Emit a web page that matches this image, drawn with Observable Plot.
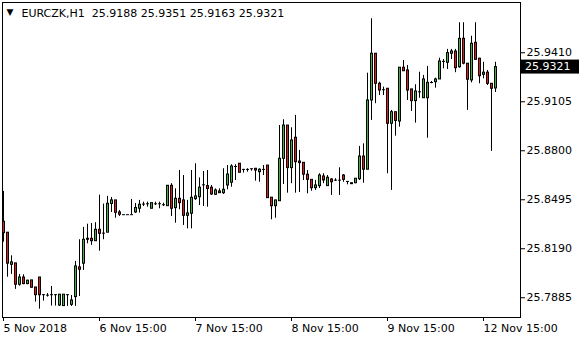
<!DOCTYPE html>
<html>
<head>
<meta charset="utf-8">
<script src="https://cdn.jsdelivr.net/npm/d3@7"></script>
<script src="https://cdn.jsdelivr.net/npm/@observablehq/plot@0.6"></script>
<style>
  html, body { margin: 0; padding: 0; background: #ffffff; }
  #chart { width: 580px; height: 340px; }
  .hdr text { white-space: pre; }
</style>
</head>
<body>
<div id="chart"></div>
<script>
const symbol = "EURCZK,H1";

const open = [
25.8358, 25.8290, 25.8090, 25.8099, 25.7966, 25.8011, 25.7970, 25.7993, 25.7949, 25.8011,
25.7904, 25.7901, 25.7904, 25.7904, 25.7837, 25.7833, 25.7904, 25.7841, 25.7889, 25.8074,
25.8097, 25.8246, 25.8252, 25.8237, 25.8308, 25.8287, 25.8290, 25.8469, 25.8491, 25.8416,
25.8402, 25.8402, 25.8402, 25.8416, 25.8439, 25.8468, 25.8470, 25.8439, 25.8470, 25.8470,
25.8464, 25.8455, 25.8582, 25.8443, 25.8501, 25.8491, 25.8395, 25.8408, 25.8499, 25.8511,
25.8588, 25.8580, 25.8570, 25.8526, 25.8547, 25.8536, 25.8584, 25.8601, 25.8702, 25.8719,
25.8684, 25.8684, 25.8688, 25.8688, 25.8667, 25.8684, 25.8708, 25.8508, 25.8455, 25.8486,
25.8750, 25.8957, 25.8692, 25.8881, 25.8733, 25.8725, 25.8651, 25.8619, 25.8567, 25.8580,
25.8640, 25.8580, 25.8621, 25.8617, 25.8617, 25.8646, 25.8609, 25.8598, 25.8598, 25.8623,
25.8764, 25.8682, 25.9113, 25.9404, 25.9217, 25.9180, 25.9186, 25.8968, 25.9040, 25.8982,
25.9317, 25.9300, 25.9182, 25.9109, 25.9167, 25.9127, 25.9127, 25.9225, 25.9227, 25.9244,
25.9356, 25.9348, 25.9404, 25.9418, 25.9320, 25.9497, 25.9342, 25.9238, 25.9472, 25.9373,
25.9273, 25.9286, 25.9217, 25.9188
];

const high = [
25.8547, 25.8290, 25.8146, 25.8099, 25.8030, 25.8028, 25.7994, 25.7993, 25.7949, 25.8011,
25.7904, 25.7911, 25.7955, 25.7904, 25.7904, 25.7904, 25.7904, 25.7899, 25.8111, 25.8246,
25.8323, 25.8343, 25.8347, 25.8352, 25.8524, 25.8468, 25.8516, 25.8509, 25.8491, 25.8428,
25.8402, 25.8402, 25.8497, 25.8472, 25.8491, 25.8480, 25.8480, 25.8474, 25.8480, 25.8480,
25.8474, 25.8582, 25.8595, 25.8563, 25.8677, 25.8646, 25.8491, 25.8677, 25.8719, 25.8631,
25.8671, 25.8677, 25.8584, 25.8563, 25.8563, 25.8688, 25.8708, 25.8713, 25.8713, 25.8719,
25.8684, 25.8688, 25.8688, 25.8688, 25.8688, 25.8708, 25.8708, 25.8508, 25.8491, 25.8957,
25.8993, 25.8957, 25.8943, 25.9020, 25.8802, 25.8725, 25.8677, 25.8619, 25.8615, 25.8657,
25.8657, 25.8646, 25.8626, 25.8626, 25.8694, 25.8652, 25.8609, 25.8598, 25.8626, 25.8827,
25.8843, 25.9283, 25.9622, 25.9404, 25.9227, 25.9196, 25.9186, 25.9051, 25.9040, 25.9317,
25.9362, 25.9331, 25.9182, 25.9211, 25.9289, 25.9269, 25.9325, 25.9231, 25.9252, 25.9376,
25.9368, 25.9431, 25.9431, 25.9431, 25.9597, 25.9597, 25.9342, 25.9513, 25.9597, 25.9376,
25.9351, 25.9300, 25.9217, 25.9351
];

const low = [
25.8231, 25.8013, 25.8030, 25.7937, 25.7957, 25.7966, 25.7966, 25.7945, 25.7858, 25.7814,
25.7864, 25.7889, 25.7833, 25.7833, 25.7831, 25.7833, 25.7831, 25.7831, 25.7831, 25.7893,
25.8055, 25.8221, 25.8211, 25.8237, 25.8175, 25.8246, 25.8290, 25.8416, 25.8380, 25.8391,
25.8402, 25.8402, 25.8402, 25.8410, 25.8412, 25.8453, 25.8449, 25.8439, 25.8459, 25.8439,
25.8453, 25.8455, 25.8391, 25.8349, 25.8433, 25.8335, 25.8314, 25.8314, 25.8491, 25.8459,
25.8453, 25.8449, 25.8522, 25.8522, 25.8534, 25.8528, 25.8557, 25.8573, 25.8615, 25.8663,
25.8661, 25.8667, 25.8673, 25.8611, 25.8604, 25.8646, 25.8505, 25.8370, 25.8380, 25.8486,
25.8590, 25.8536, 25.8595, 25.8536, 25.8540, 25.8615, 25.8532, 25.8548, 25.8553, 25.8565,
25.8595, 25.8578, 25.8522, 25.8609, 25.8522, 25.8604, 25.8588, 25.8590, 25.8595, 25.8615,
25.8598, 25.8682, 25.8989, 25.9093, 25.9144, 25.9144, 25.8657, 25.8553, 25.8891, 25.8947,
25.9295, 25.9113, 25.9045, 25.8972, 25.9127, 25.9127, 25.8878, 25.9217, 25.9190, 25.9244,
25.9310, 25.9306, 25.9368, 25.9286, 25.9314, 25.9335, 25.9051, 25.9223, 25.9366, 25.9217,
25.9248, 25.9206, 25.8796, 25.9163
];

const close = [
25.8287, 25.8097, 25.8105, 25.7966, 25.8011, 25.7970, 25.7991, 25.7947, 25.7901, 25.7901,
25.7904, 25.7901, 25.7904, 25.7904, 25.7904, 25.7904, 25.7904, 25.7868, 25.8080, 25.8059,
25.8246, 25.8252, 25.8237, 25.8308, 25.8283, 25.8287, 25.8470, 25.8491, 25.8414, 25.8402,
25.8402, 25.8402, 25.8402, 25.8444, 25.8464, 25.8468, 25.8470, 25.8474, 25.8470, 25.8470,
25.8464, 25.8582, 25.8439, 25.8501, 25.8474, 25.8395, 25.8410, 25.8507, 25.8516, 25.8570,
25.8588, 25.8562, 25.8528, 25.8553, 25.8536, 25.8557, 25.8652, 25.8702, 25.8702, 25.8663,
25.8684, 25.8684, 25.8688, 25.8677, 25.8682, 25.8684, 25.8505, 25.8455, 25.8491, 25.8750,
25.8957, 25.8692, 25.8864, 25.8729, 25.8723, 25.8651, 25.8619, 25.8567, 25.8584, 25.8646,
25.8615, 25.8632, 25.8604, 25.8617, 25.8617, 25.8619, 25.8609, 25.8592, 25.8626, 25.8764,
25.8682, 25.9113, 25.9404, 25.9217, 25.9175, 25.9180, 25.8968, 25.9040, 25.8986, 25.9317,
25.9295, 25.9175, 25.9109, 25.9169, 25.9167, 25.9244, 25.9223, 25.9225, 25.9244, 25.9356,
25.9356, 25.9408, 25.9418, 25.9314, 25.9497, 25.9342, 25.9242, 25.9466, 25.9366, 25.9264,
25.9286, 25.9217, 25.9186, 25.9321
];

// x tick positions (bar index) and their labels
const xTickBars = [0, 24, 48, 72, 96, 120];
const xTickLabels = ["5 Nov 2018", "6 Nov 15:00", "7 Nov 15:00", "8 Nov 15:00", "9 Nov 15:00", "12 Nov 15:00"];
// y tick values
const yTicks = [25.7885, 25.8190, 25.8495, 25.8800, 25.9105, 25.9410];

const GREEN = "#3fb43f";
const RED = "#e01a1a";
const FONT = "DejaVu Sans";

const bars = open.map((o, i) => ({i, open: o, high: high[i], low: low[i], close: close[i]}));
const bodies = bars.filter(d => d.open !== d.close);
const dojis = bars.filter(d => d.open === d.close);
const last = bars[bars.length - 1];
const header = `${symbol}  ${last.open.toFixed(4)} ${last.high.toFixed(4)} ${last.low.toFixed(4)} ${last.close.toFixed(4)}`;

const chart = Plot.plot({
  width: 580,
  height: 340,
  marginLeft: 2,
  marginRight: 60,
  marginTop: 2,
  marginBottom: 23,
  style: {background: "#ffffff", color: "#000000", fontFamily: FONT, fontSize: "11px"},
  x: {type: "linear", domain: [-0.25, 129.25], label: null},
  y: {type: "linear", domain: [25.7762, 25.9723], label: null},
  color: {type: "identity"},
  marks: [
    Plot.frame({stroke: "#000000"}),
    // wicks
    Plot.ruleX(bars, {x: "i", y1: "low", y2: "high", stroke: "#000000", strokeWidth: 1}),
    // body outline (3px wide black)
    Plot.rect(bodies, {
      x1: d => d.i - 0.25, x2: d => d.i + 0.5,
      y1: "open", y2: "close",
      insetTop: -0.5, insetBottom: -0.5,
      fill: "#000000"
    }),
    // body fill (inner column)
    Plot.rect(bodies, {
      x1: d => d.i, x2: d => d.i + 0.25,
      y1: "open", y2: "close",
      insetTop: 0.5, insetBottom: 0.5,
      fill: d => d.close > d.open ? GREEN : RED
    }),
    // doji bars
    Plot.ruleY(dojis, {
      y: "close", x1: d => d.i - 0.25, x2: d => d.i + 0.5,
      stroke: "#000000", strokeWidth: 1
    }),
    Plot.axisX(xTickBars, {
      anchor: "bottom", tickSize: 4, tickPadding: 3, textAnchor: "start", label: null,
      tickFormat: d => xTickLabels[xTickBars.indexOf(d)],
      fontSize: 11, fill: "#000000", stroke: "#000000"
    }),
    Plot.axisY(yTicks, {
      anchor: "right", tickSize: 4, tickPadding: 2, label: null,
      tickFormat: d => d.toFixed(4),
      fontSize: 11, fill: "#000000", stroke: "#000000"
    }),
    Plot.text(["▼"], {frameAnchor: "top-left", dx: 4, dy: 10, textAnchor: "start", lineAnchor: "middle", fontSize: 9, fill: "#000000"}),
    Plot.text([header], {frameAnchor: "top-left", dx: 19, dy: 11, textAnchor: "start", lineAnchor: "middle", fontSize: 11, fill: "#000000", className: "hdr"})
  ]
});

document.getElementById("chart").appendChild(chart);

// current price label (black box with white text) positioned via the y scale
const svgNS = "http://www.w3.org/2000/svg";
const yPos = chart.scale("y").apply(last.close);
const g = document.createElementNS(svgNS, "g");
const box = document.createElementNS(svgNS, "rect");
box.setAttribute("x", 521);
box.setAttribute("y", yPos - 7);
box.setAttribute("width", 58);
box.setAttribute("height", 14);
box.setAttribute("fill", "#000000");
const t = document.createElementNS(svgNS, "text");
t.setAttribute("x", 525);
t.setAttribute("y", yPos);
t.setAttribute("dy", "0.32em");
t.setAttribute("fill", "#ffffff");
t.setAttribute("text-anchor", "start");
t.setAttribute("font-size", "11");
t.setAttribute("font-family", FONT);
t.textContent = last.close.toFixed(4);
g.appendChild(box);
g.appendChild(t);
chart.appendChild(g);
</script>
</body>
</html>
